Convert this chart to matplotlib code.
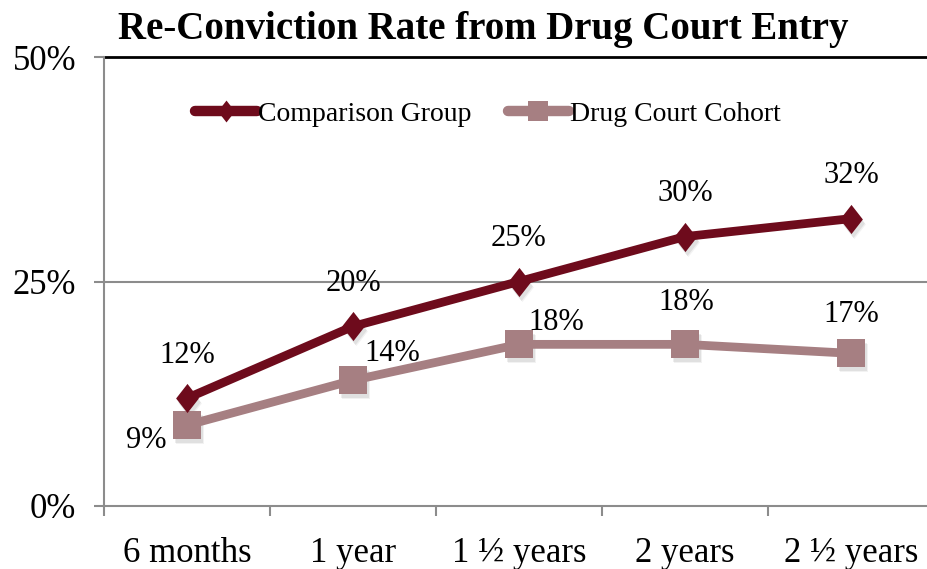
import numpy as np
from matplotlib import pyplot as plt
from matplotlib.path import Path
from matplotlib.transforms import offset_copy

# data
periods = ['6 months', '1 year', '1 \u00bd years', '2 years', '2 \u00bd years']
comparison = [12, 20, 25, 30, 32]
cohort = [9, 14, 18, 18, 17]
yticks = [0, 25, 50]

dark_red = '#6E0B1C'
rose = '#A67F82'
grey = '#8C8C8C'

plt.rcParams['font.family'] = ['Liberation Serif', 'DejaVu Serif']

# narrow diamond, taller than wide
diamond = Path([(-0.78, 0), (0, 1), (0.78, 0), (0, -1), (-0.78, 0)],
               [Path.MOVETO, Path.LINETO, Path.LINETO, Path.LINETO, Path.CLOSEPOLY])

fig = plt.figure(figsize=(9.28, 5.69), dpi=100)
ax = fig.add_axes([104 / 928, 1 - 506 / 569, 830 / 928, 449 / 569])

x = np.arange(len(periods))

# soft drop shadow under the markers
for dx, dy, a in [(2, -4, 0.07), (3, -5, 0.05)]:
    shadow = offset_copy(ax.transData, fig=fig, x=dx, y=dy, units='dots')
    ax.plot(x, comparison, ls='none', marker=diamond, ms=21, mew=0,
            color='black', alpha=a, transform=shadow, zorder=2)
    ax.plot(x, cohort, ls='none', marker='s', ms=20, mew=0,
            color='black', alpha=a, transform=shadow, zorder=2)

ax.plot(x, comparison, color=dark_red, lw=6.3, marker=diamond, ms=21,
        mew=0, label='Comparison Group', zorder=4, solid_capstyle='round')
ax.plot(x, cohort, color=rose, lw=6.3, marker='s', ms=20,
        mew=0, label='Drug Court Cohort', zorder=3, solid_capstyle='round')

# data labels
for xi, v in zip(x, comparison):
    ax.annotate('%d%%' % v, (xi, v), xytext=(0, 31), textcoords='offset points',
                ha='center', va='center', fontsize=22)
cohort_off = [(-29, -11), (28, 19), (27, 16), (1, 30), (0, 28)]
for xi, v, off in zip(x, cohort, cohort_off):
    ax.annotate('%d%%' % v, (xi, v), xytext=off, textcoords='offset points',
                ha='center', va='center', fontsize=22)

ax.set_xlim(-0.5, len(periods) - 0.5)
ax.set_ylim(0, 50)
ax.set_yticks(yticks)
ax.set_yticklabels(['%d%%' % t for t in yticks], fontsize=25)
ax.set_xticks(x)
ax.set_xticklabels(periods, fontsize=25)
ax.set_xticks(np.arange(len(periods) + 1) - 0.5, minor=True)
ax.tick_params(axis='x', which='major', length=0, pad=22)
ax.tick_params(axis='x', which='minor', length=7, color=grey, width=1.5)
ax.tick_params(axis='y', length=7, color=grey, width=1.5, pad=13)

ax.axhline(25, color=grey, lw=1.5, zorder=1)
for s in ['right', 'top']:
    ax.spines[s].set_visible(False)
for s in ['left', 'bottom']:
    ax.spines[s].set_color(grey)
    ax.spines[s].set_linewidth(1.5)
ax.axhline(50, color='black', lw=2, zorder=1, clip_on=False)

leg = ax.legend(loc='center left', bbox_to_anchor=(0.08, 0.872), ncol=2,
                frameon=False, fontsize=20, handlelength=2.2, handletextpad=0.05,
                columnspacing=1.3, markerscale=0.75)
for ln in leg.get_lines():
    ln.set_linewidth(7.5)

fig.text(483 / 928, 1 - 30 / 569, 'Re-Conviction Rate from Drug Court Entry',
         ha='center', va='center', fontsize=28, fontweight='bold')

fig.savefig('out.png', dpi=100)
